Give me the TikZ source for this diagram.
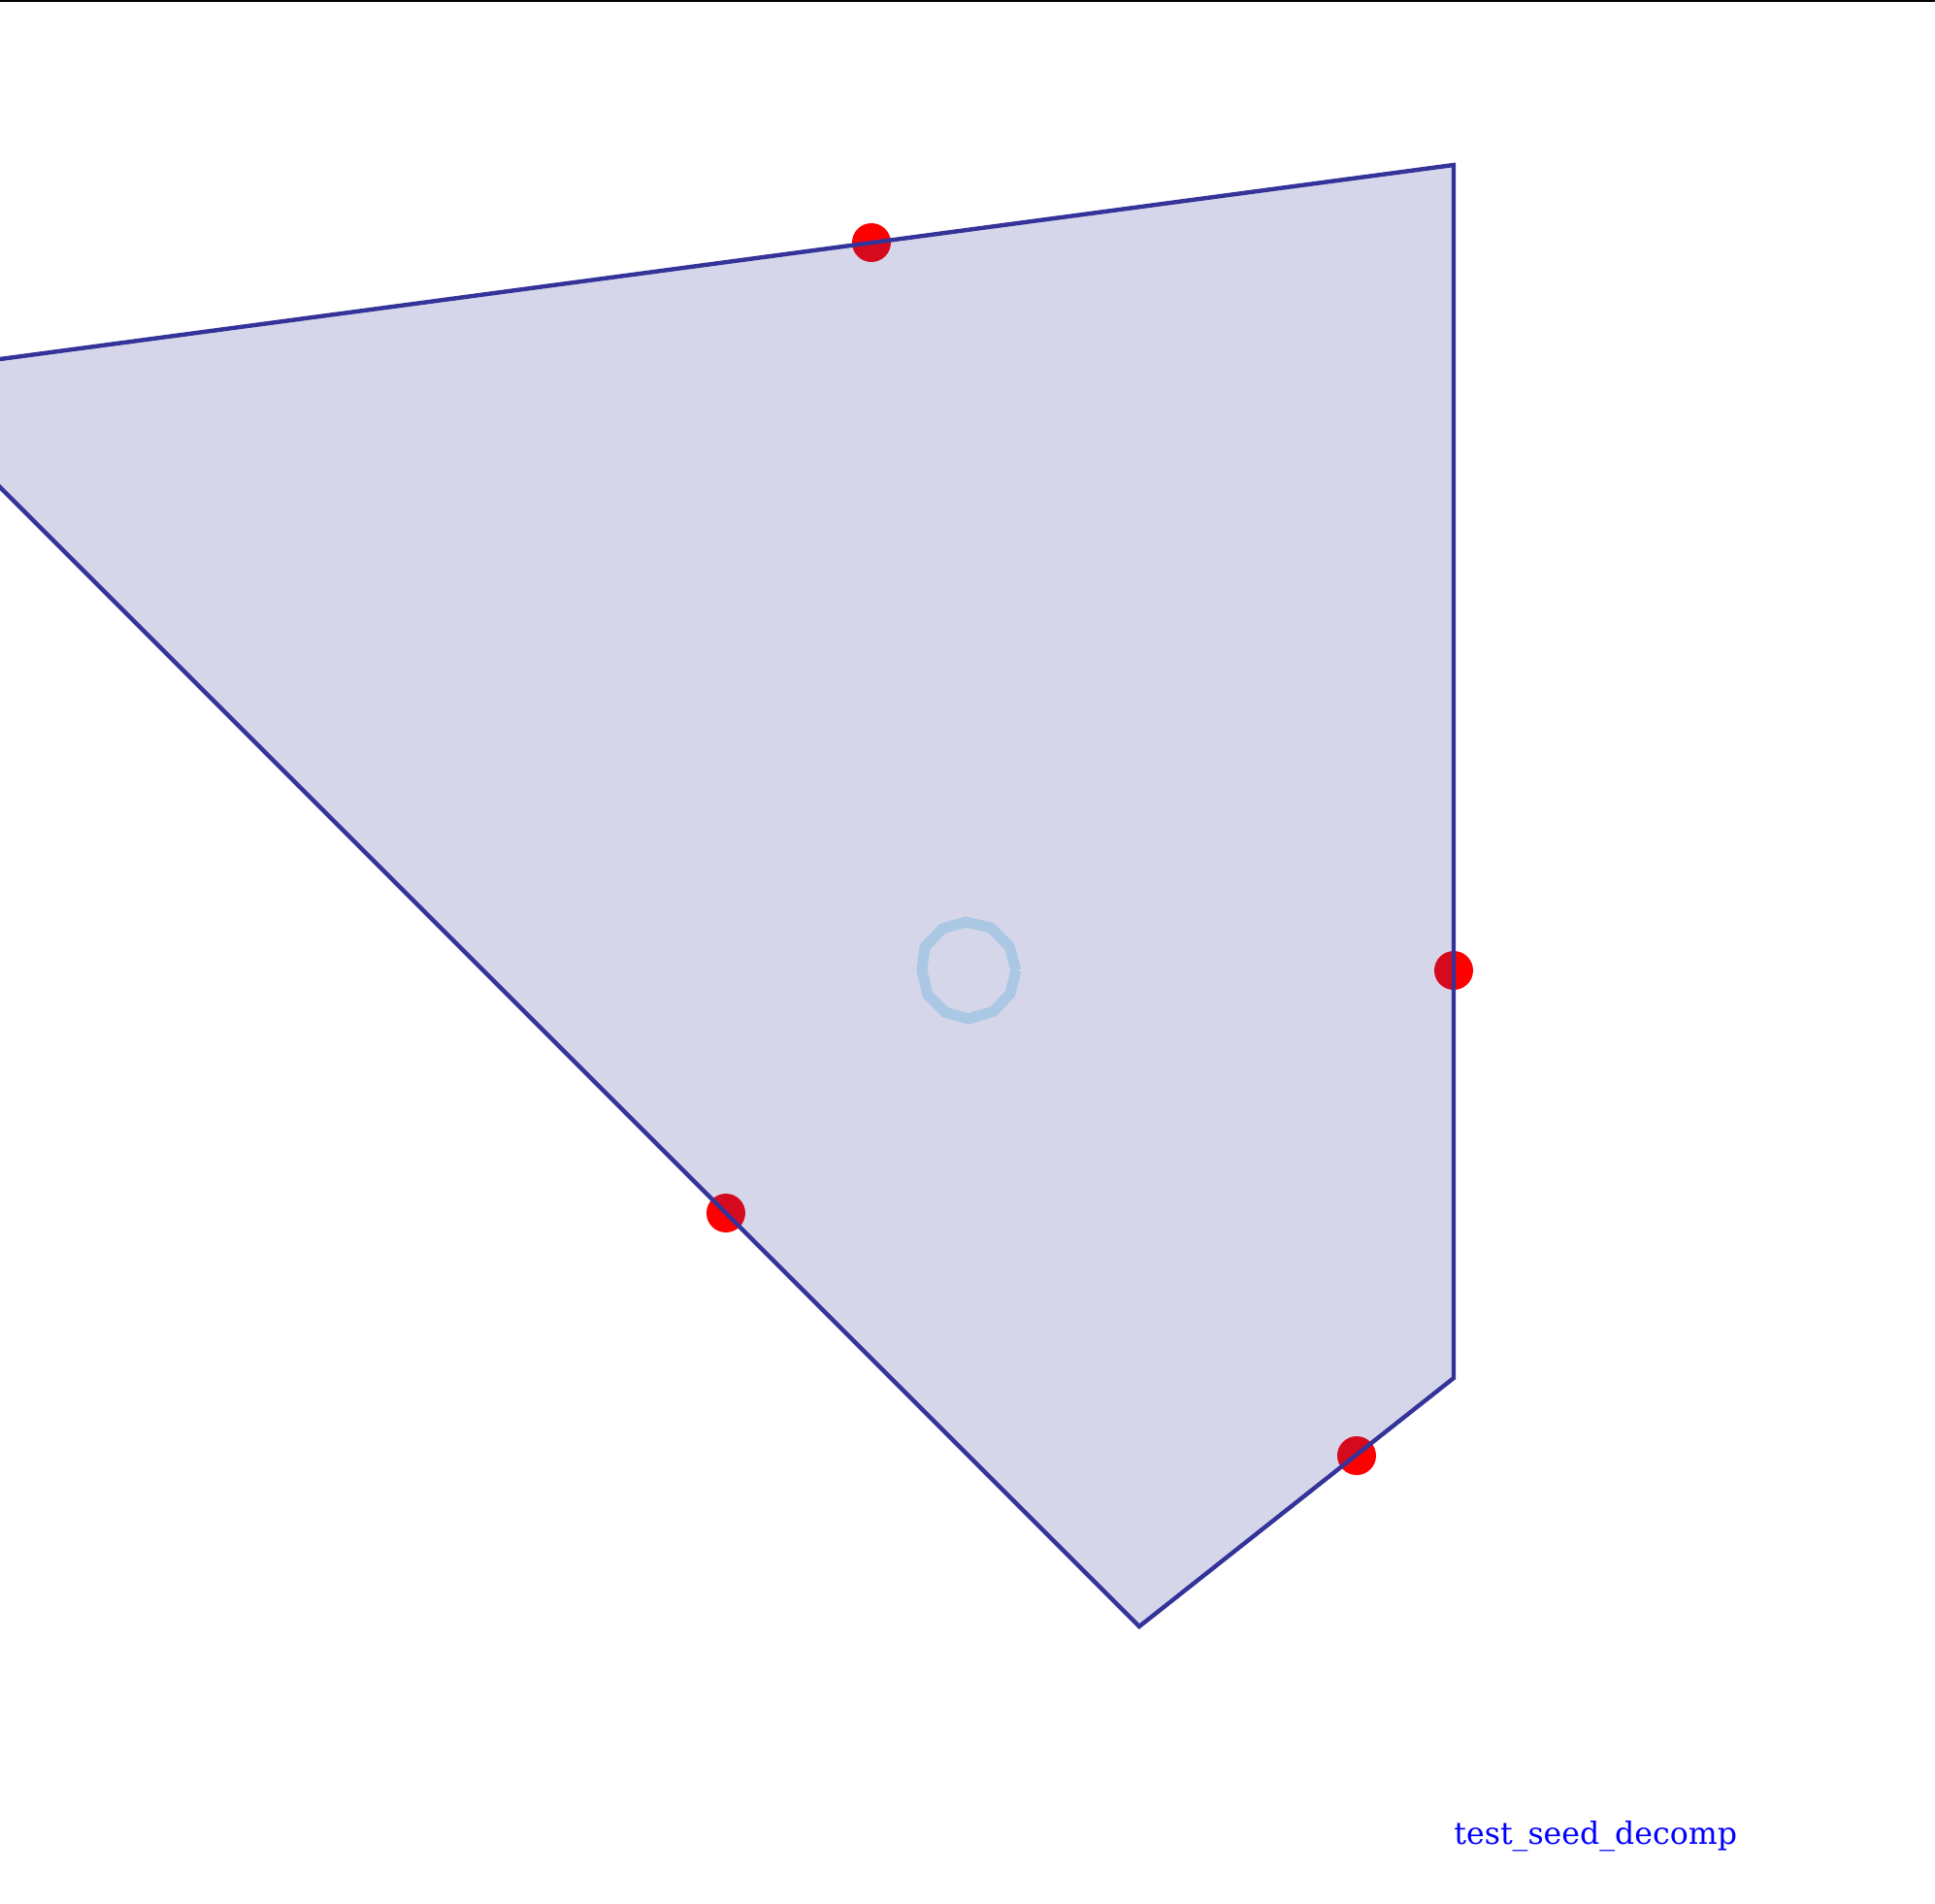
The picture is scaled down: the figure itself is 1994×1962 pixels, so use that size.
\documentclass[tikz,border=0pt]{standalone}
\usepackage{fontspec}
\newfontfamily\labfont{DejaVu Serif}
\definecolor{polyc}{HTML}{333399}
\definecolor{seedc}{RGB}{170,200,228}
\tikzset{
  dot/.style={circle, fill=red, inner sep=0pt, minimum size=20pt},
  poly/.style={draw=polyc, fill=polyc, fill opacity=0.2, line width=2.2pt, line join=miter},
  seed/.style={draw=seedc, line width=5.5pt, line join=miter}
}
\begin{document}
\begin{tikzpicture}[x=0.5pt,y=-0.5pt]
\useasboundingbox (0,0) rectangle (1994,1962);
\draw[line width=1pt] (0,0.8) -- (1994,0.8);
% red dots (beneath the polygon fill)
\node[dot] (d1) at (898,250) {};
\node[dot] (d2) at (1498,1000) {};
\node[dot] (d3) at (1398,1500) {};
\node[dot] (d4) at (748,1250) {};
% polygon
\coordinate (p1) at (-5,370.7);
\coordinate (p2) at (1498,170);
\coordinate (p3) at (1498,1420);
\coordinate (p4) at (1174,1676);
\coordinate (p5) at (-5,497);
\filldraw[poly] (p1) -- (p2) -- (p3) -- (p4) -- (p5);
% seed ring
\draw[seed] (1047,1000) -- (1041,1024) -- (1024,1042) -- (998,1050) -- (974,1043) -- (956,1025) -- (950,1000) -- (953,976) -- (971,957) -- (995,950) -- (1021,956) -- (1040,975) -- (1047,1000);
\node[text=blue, font=\labfont\fontsize{15.8pt}{19pt}\selectfont, anchor=base west, inner sep=0pt] (lab) at (1498,1900) {test\_seed\_decomp};
\end{tikzpicture}
\end{document}
